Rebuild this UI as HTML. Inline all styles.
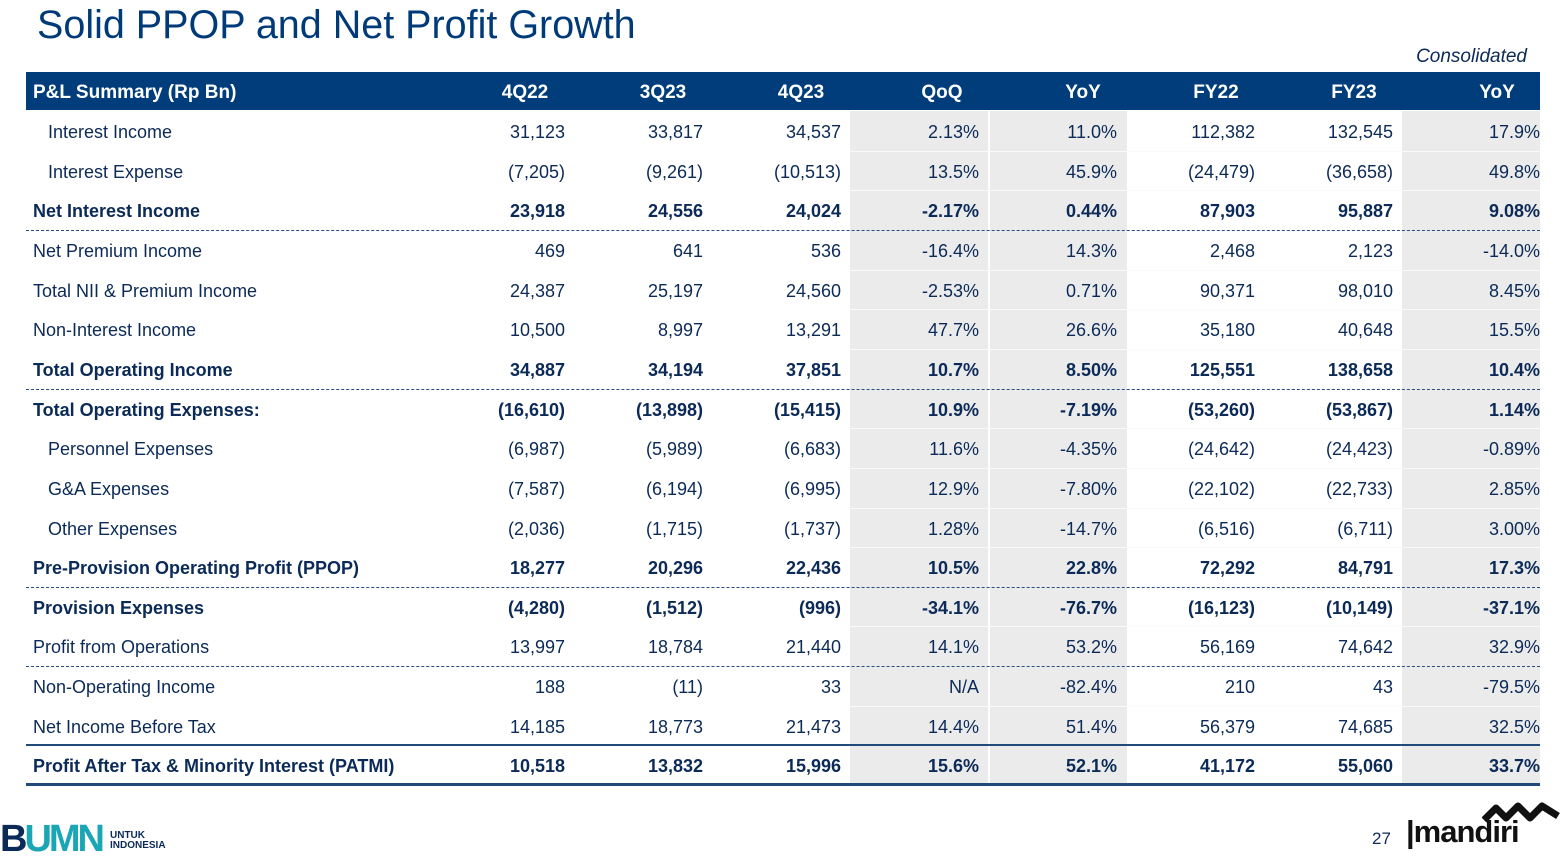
<!DOCTYPE html>
<html><head><meta charset="utf-8">
<style>
body{margin:0;width:1563px;height:855px;background:#fff;position:relative;overflow:hidden;font-family:"Liberation Sans",Arial,sans-serif;color:#0b2a57}
.abs{position:absolute}
#title{left:37px;top:3px;font-size:39.5px;color:#003a78;white-space:nowrap}
#cons{right:36px;top:46px;font-size:19px;font-style:italic;color:#0b2a57}
#hdr{left:26px;top:72px;width:1514px;height:38px;background:#003d7a}
.h{color:#fff;font-weight:bold;font-size:19px;top:82px;white-space:nowrap}
.gray{background:#ebebeb;top:111px;height:673px}
.cell{font-size:18px;white-space:nowrap;text-align:right;width:130px}
.lab{font-size:18px;white-space:nowrap}
.b{font-weight:bold}
.dot{left:26px;width:1514px;height:0;border-top:1px dashed #2a4d80}
.rowline{height:1px;background:#fafafa}
</style></head><body>
<div id="title" class="abs">Solid PPOP and Net Profit Growth</div>
<div id="cons" class="abs">Consolidated</div>
<div id="hdr" class="abs"></div>
<div class="abs gray" style="left:850px;width:138px"></div>
<div class="abs gray" style="left:990px;width:137px"></div>
<div class="abs gray" style="left:1402px;width:138px"></div>
<div id="tbl"></div>
<div class="abs" style="left:26px;top:744px;width:1514px;height:2px;background:#1f4a7a"></div>
<div class="abs" style="left:26px;top:783px;width:1514px;height:3px;background:#1f4a7a"></div>
<div class="abs" style="left:0;top:818px;font-size:38px;font-weight:bold;color:#0b2a57;letter-spacing:-3px">B<span style="color:#1aa6b5">UMN</span></div>
<div class="abs" style="left:110px;top:831px;font-size:10px;font-weight:bold;line-height:10px;color:#0b2a57">UNTUK<br>INDONESIA</div>
<div class="abs" style="left:1372px;top:829px;font-size:17px;color:#0b2a57">27</div>
<div class="abs" style="left:1406px;top:814px;font-size:31px;font-weight:bold;color:#111;letter-spacing:-1px">|mandiri</div>
<svg class="abs" style="left:1482px;top:802px" width="80" height="22"><path d="M2 18 L14 6 L24 16 L36 4 L48 16 L60 4 L76 14" stroke="#111" stroke-width="7" fill="none" stroke-linejoin="round"/></svg>
<script>
const headers=["P&L Summary (Rp Bn)","4Q22","3Q23","4Q23","QoQ","YoY","FY22","FY23","YoY"];
const labels=["Interest Income","Interest Expense","Net Interest Income","Net Premium Income","Total NII & Premium Income","Non-Interest Income","Total Operating Income","Total Operating Expenses:","Personnel Expenses","G&A Expenses","Other Expenses","Pre-Provision Operating Profit (PPOP)","Provision Expenses","Profit from Operations","Non-Operating Income","Net Income Before Tax","Profit After Tax & Minority Interest (PATMI)"];
const indent=[1,1,0,0,0,0,0,0,1,1,1,0,0,0,0,0,0];
const bold=[0,0,1,0,0,0,1,1,0,0,0,1,1,0,0,0,1];
const q4_22=["31,123","(7,205)","23,918","469","24,387","10,500","34,887","(16,610)","(6,987)","(7,587)","(2,036)","18,277","(4,280)","13,997","188","14,185","10,518"];
const q3_23=["33,817","(9,261)","24,556","641","25,197","8,997","34,194","(13,898)","(5,989)","(6,194)","(1,715)","20,296","(1,512)","18,784","(11)","18,773","13,832"];
const q4_23=["34,537","(10,513)","24,024","536","24,560","13,291","37,851","(15,415)","(6,683)","(6,995)","(1,737)","22,436","(996)","21,440","33","21,473","15,996"];
const qoq=["2.13%","13.5%","-2.17%","-16.4%","-2.53%","47.7%","10.7%","10.9%","11.6%","12.9%","1.28%","10.5%","-34.1%","14.1%","N/A","14.4%","15.6%"];
const yoy=["11.0%","45.9%","0.44%","14.3%","0.71%","26.6%","8.50%","-7.19%","-4.35%","-7.80%","-14.7%","22.8%","-76.7%","53.2%","-82.4%","51.4%","52.1%"];
const fy22=["112,382","(24,479)","87,903","2,468","90,371","35,180","125,551","(53,260)","(24,642)","(22,102)","(6,516)","72,292","(16,123)","56,169","210","56,379","41,172"];
const fy23=["132,545","(36,658)","95,887","2,123","98,010","40,648","138,658","(53,867)","(24,423)","(22,733)","(6,711)","84,791","(10,149)","74,642","43","74,685","55,060"];
const fyYoy=["17.9%","49.8%","9.08%","-14.0%","8.45%","15.5%","10.4%","1.14%","-0.89%","2.85%","3.00%","17.3%","-37.1%","32.9%","-79.5%","32.5%","33.7%"];
const dottedAfter=[2,6,11,13];
const cols=[q4_22,q3_23,q4_23,qoq,yoy,fy22,fy23,fyYoy];
const colRight=[565,703,841,979,1117,1255,1393,1540];
const hdrCenter=[525,663,801,942,1083,1216,1354,1497];
const tbl=document.getElementById('tbl');
const rowTop=i=>111+i*39.65;
function mk(cls,style,text){const d=document.createElement('div');d.className='abs '+cls;d.style.cssText=style;if(text!==undefined)d.textContent=text;tbl.appendChild(d);return d;}
let h0=mk('h','left:33px',headers[0]);


for(let c=0;c<8;c++){
  const e=mk('h','left:'+(hdrCenter[c]-60)+'px;width:120px;text-align:center',headers[c+1]);
  
  
}
for(let i=0;i<labels.length;i++){
  const top=rowTop(i);
  const ty=top+11;
  const l=mk('lab'+(bold[i]?' b':''),'left:'+(indent[i]?48:33)+'px;top:'+ty+'px',labels[i]);
  
  
  for(let c=0;c<8;c++){
    const v=mk('cell'+(bold[i]?' b':''),'left:'+(colRight[c]-130)+'px;top:'+ty+'px',cols[c][i]);
    
    
  }
  if(i>0&&dottedAfter.indexOf(i-1)<0&&i<16){
    const ln=mk('rowline','left:850px;width:690px;top:'+Math.round(top)+'px');
    
    
  }
  if(dottedAfter.indexOf(i)>=0){
    const d=mk('dot','top:'+Math.round(top+39.6)+'px');
    
    
  }
}
</script>
</body></html>
